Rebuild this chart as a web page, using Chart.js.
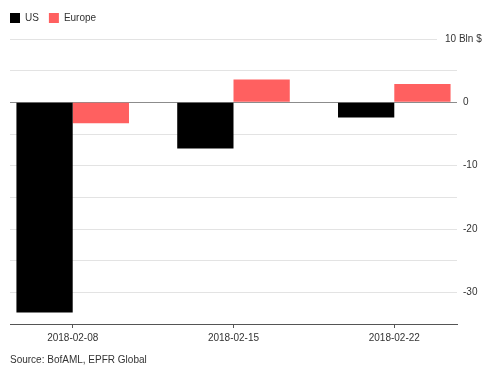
<!DOCTYPE html>
<html>
<head>
<meta charset="utf-8">
<script src="https://cdn.jsdelivr.net/npm/chart.js@4"></script>
<style>
  html, body { margin: 0; padding: 0; background: #fff; }
  #wrap { width: 500px; height: 374px; position: relative; }
</style>
</head>
<body>
<div id="wrap"><canvas id="chart"></canvas></div>
<script>
// Данные графика
const weeks = ['2018-02-08', '2018-02-15', '2018-02-22'];
const usFlows = [-33.2, -7.3, -2.4];
const europeFlows = [-3.3, 3.6, 2.9];
const yTicks = [-30, -20, -10, 0];
const topTickLabel = '10 Bln $';
const sourceNote = 'Source: BofAML, EPFR Global';

const FONT = "'Liberation Sans', Arial, sans-serif";

// точки для линейной оси x (индекс недели)
const toPoints = arr => arr.map((v, i) => ({ x: i, y: v }));

// подпись "10 Bln $" и укороченная верхняя линия сетки
const topLabelPlugin = {
    id: 'topLabel',
    afterLayout(chart) {
        // легенда прижата к левому краю и чуть выше, как в оригинале
        chart.legend.left = 0;
        chart.legend.top -= 6;
        chart.legend.bottom -= 6;
    },
    afterDraw(chart) {
        const { ctx, chartArea } = chart;
        const y = chart.scales.y.getPixelForValue(10);
        ctx.save();
        ctx.strokeStyle = '#e3e3e3';
        ctx.lineWidth = 1;
        ctx.beginPath();
        ctx.moveTo(chartArea.left, Math.round(y) + 0.5);
        ctx.lineTo(chartArea.right - 20, Math.round(y) + 0.5);
        ctx.stroke();
        ctx.fillStyle = '#333';
        ctx.font = '10px ' + FONT;
        ctx.textBaseline = 'middle';
        ctx.textAlign = 'left';
        ctx.fillText(topTickLabel, chartArea.right - 12, y);
        ctx.restore();
    }
};

new Chart(document.getElementById('chart'), {
    type: 'bar',
    data: {
        datasets: [
            { label: 'US', data: toPoints(usFlows), backgroundColor: '#000000' },
            { label: 'Europe', data: toPoints(europeFlows), backgroundColor: '#ff6060' }
        ]
    },
    options: {
        responsive: true,
        maintainAspectRatio: false,
        animation: false,
        categoryPercentage: 0.7,
        barPercentage: 1.0,
        layout: { padding: { left: 10, top: 9, bottom: 8 } },
        plugins: {
            legend: {
                position: 'top',
                align: 'start',
                labels: {
                    boxWidth: 10,
                    boxHeight: 10,
                    padding: 10,
                    color: '#333',
                    font: { family: FONT, size: 10 }
                }
            },
            subtitle: {
                display: true,
                position: 'bottom',
                align: 'start',
                text: sourceNote,
                color: '#333',
                font: { family: FONT, size: 10 },
                padding: { top: 6, bottom: 0 }
            },
            tooltip: { enabled: false }
        },
        scales: {
            x: {
                type: 'linear',
                min: -0.39,
                max: 2.39,
                offset: false,
                grid: {
                    drawOnChartArea: false,
                    drawTicks: true,
                    tickLength: 4,
                    color: '#555',
                    offset: false
                },
                border: { display: true, color: '#555' },
                ticks: {
                    stepSize: 1,
                    includeBounds: false,
                    autoSkip: false,
                    maxRotation: 0,
                    padding: 4,
                    color: '#333',
                    font: { family: FONT, size: 10 },
                    callback: v => weeks[v] ?? ''
                }
            },
            y: {
                position: 'right',
                min: -35,
                max: 10,
                afterFit(scale) { scale.width = 43; },
                grid: {
                    drawTicks: false,
                    color: ctx => {
                        const v = ctx.tick && ctx.tick.value;
                        if (v === 0) return '#8c8c8c';
                        if (v === 10 || v === -35) return 'rgba(0,0,0,0)';
                        return '#e3e3e3';
                    }
                },
                border: { display: false },
                ticks: {
                    stepSize: 5,
                    padding: 6,
                    color: '#333',
                    font: { family: FONT, size: 10 },
                    callback: v => yTicks.includes(v) ? String(v) : ''
                }
            }
        }
    },
    plugins: [topLabelPlugin]
});
</script>
</body>
</html>
